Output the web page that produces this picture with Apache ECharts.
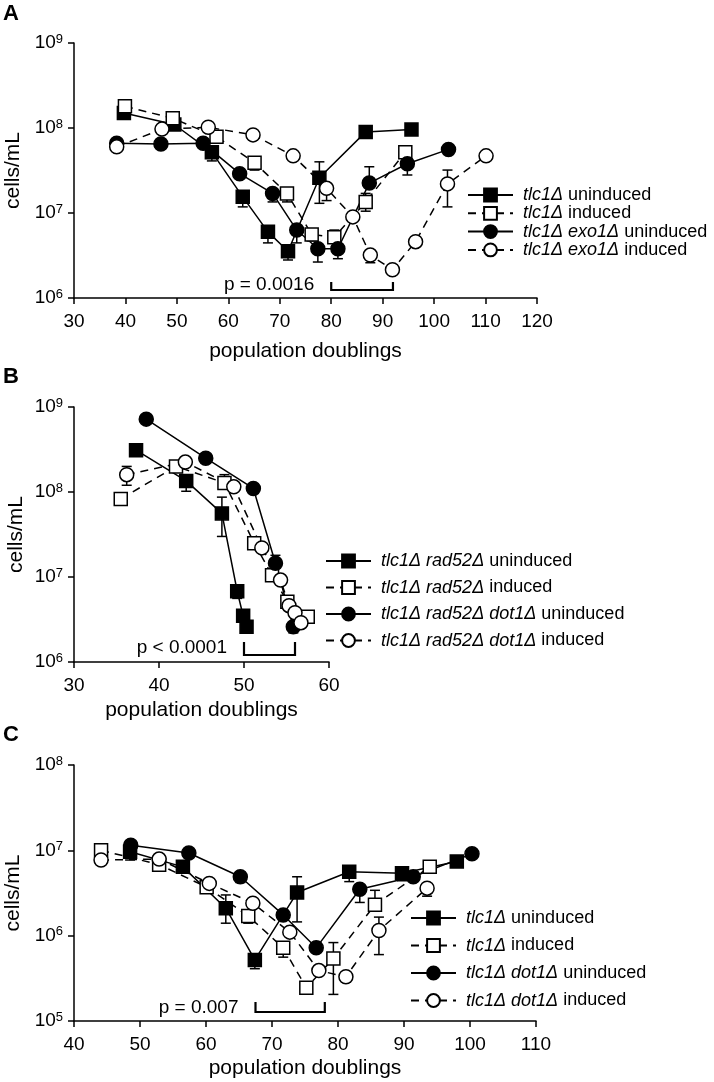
<!DOCTYPE html>
<html><head><meta charset="utf-8">
<script src="https://cdn.jsdelivr.net/npm/echarts@6/dist/echarts.min.js"></script>
<style>html,body{margin:0;padding:0;background:#fff}#c{width:714px;height:1082px}</style>
</head><body><div id="c"></div>
<script>
// ---------- Panel A ----------
const A_names = ['tlc1Δ uninduced', 'tlc1Δ induced', 'tlc1Δ exo1Δ uninduced', 'tlc1Δ exo1Δ induced'];
const A_tlc1_un = [[39.7,1.5e8],[49.5,1.1e8],[56.8,5.2e7],[62.8,1.55e7],[67.7,6.0e6],[71.6,3.55e6],[77.7,2.6e7],[86.7,9.0e7],[95.6,9.6e7]];
const A_tlc1_in = [[39.9,1.8e8],[49.2,1.3e8],[57.7,7.9e7],[65.1,3.9e7],[71.4,1.7e7],[76.2,5.6e6],[80.6,5.2e6],[86.7,1.35e7],[94.4,5.2e7]];
const A_exo1_un = [[38.3,6.6e7],[46.9,6.5e7],[55.1,6.6e7],[62.2,2.9e7],[68.6,1.7e7],[73.3,6.3e6],[77.4,3.8e6],[81.3,3.8e6],[87.4,2.25e7],[94.8,3.8e7],[102.8,5.6e7]];
const A_exo1_in = [[38.3,6.0e7],[47.1,9.7e7],[56.1,1.02e8],[64.8,8.3e7],[72.6,4.7e7],[79.1,1.95e7],[84.2,9.0e6],[87.6,3.2e6],[91.9,2.15e6],[96.4,4.6e6],[102.6,2.2e7],[110.1,4.7e7]];
// error bars: [x, value, bar end]
const A_err = [
  [56.8,5.2e7,4.1e7],[62.8,1.55e7,1.18e7],[67.7,6e6,4.45e6],[71.6,3.55e6,2.8e6],[77.7,2.6e7,4e7],[77.7,2.6e7,1.3e7],
  [65.1,3.9e7,3.2e7],[71.4,1.7e7,1.35e7],[76.2,5.6e6,4.7e6],[80.6,5.2e6,6.3e6],[86.7,1.35e7,1.7e7],[86.7,1.35e7,1.05e7],[94.4,5.2e7,5.9e7],[94.4,5.2e7,4.4e7],
  [68.6,1.7e7,1.35e7],[73.3,6.3e6,4.45e6],[77.4,3.8e6,2.65e6],[81.3,3.8e6,2.9e6],[87.4,2.25e7,3.5e7],[94.8,3.8e7,2.8e7],
  [64.8,8.3e7,7.2e7],[79.1,1.95e7,1.4e7],[87.6,3.2e6,2.6e6],[102.6,2.2e7,3.2e7],[102.6,2.2e7,1.18e7]
];
const A_bracket = [80, 92];
const A_p = 'p = 0.0016';
const A_xTicks = [30, 120, 10];
const A_yRange = [1e6, 1e9];

// ---------- Panel B ----------
const B_names = ['tlc1Δ rad52Δ uninduced', 'tlc1Δ rad52Δ induced', 'tlc1Δ rad52Δ dot1Δ uninduced', 'tlc1Δ rad52Δ dot1Δ induced'];
const B_r52_un = [[37.3,3.1e8],[43.2,1.35e8],[47.4,5.6e7],[49.2,6.8e6],[49.9,3.5e6],[50.3,2.6e6]];
const B_r52_in = [[35.5,8.3e7],[42.0,2.0e8],[47.7,1.28e8],[51.2,2.5e7],[53.3,1.05e7],[55.1,5.1e6],[57.5,3.4e6]];
const B_d1_un = [[38.5,7.2e8],[45.5,2.5e8],[51.1,1.1e8],[53.7,1.45e7],[55.8,2.6e6]];
const B_d1_in = [[36.2,1.6e8],[43.1,2.25e8],[48.8,1.15e8],[52.1,2.2e7],[54.3,9.2e6],[55.3,4.6e6],[56.0,3.8e6],[56.7,2.9e6]];
const B_err = [
  [43.2,1.35e8,1.02e8],[47.4,5.6e7,8.7e7],[47.4,5.6e7,3.0e7],[49.2,6.8e6,5.6e6],
  [47.7,1.28e8,1.6e8],
  [53.7,1.45e7,1.8e7],[55.8,2.6e6,2.2e6],
  [36.2,1.6e8,2.0e8],[36.2,1.6e8,1.2e8]
];
const B_bracket = [50, 56];
const B_p = 'p < 0.0001';
const B_xTicks = [30, 60, 10];
const B_yRange = [1e6, 1e9];

// ---------- Panel C ----------
const C_names = ['tlc1Δ uninduced', 'tlc1Δ induced', 'tlc1Δ dot1Δ uninduced', 'tlc1Δ dot1Δ induced'];
const C_tlc1_un = [[48.5,9.6e6],[56.5,6.4e6],[63.0,2.1e6],[67.4,5.2e5],[73.8,3.2e6],[81.7,5.6e6],[89.7,5.4e6],[98.0,7.4e6]];
const C_tlc1_in = [[44.1,1.0e7],[52.9,6.8e6],[60.1,3.7e6],[66.4,1.7e6],[71.7,7.2e5],[75.2,2.45e5],[79.3,5.4e5],[85.6,2.3e6],[93.9,6.4e6]];
const C_dot1_un = [[48.6,1.15e7],[57.4,9.3e6],[65.2,4.9e6],[71.7,1.75e6],[76.7,7.2e5],[83.3,3.5e6],[91.4,4.9e6],[100.3,9.1e6]];
const C_dot1_in = [[44.1,7.7e6],[52.9,7.9e6],[60.5,4.1e6],[67.1,2.4e6],[72.7,1.1e6],[77.1,3.9e5],[81.2,3.3e5],[86.2,1.15e6],[93.5,3.6e6]];
const C_err = [
  [48.5,9.6e6,7.7e6],[63.0,2.1e6,3.0e6],[63.0,2.1e6,1.4e6],[67.4,5.2e5,4.1e5],[73.8,3.2e6,4.9e6],[73.8,3.2e6,1.45e6],[81.7,5.6e6,4.3e6],[89.7,5.4e6,4.4e6],
  [66.4,1.7e6,1.4e6],[71.7,7.2e5,5.6e5],[79.3,5.4e5,8.3e5],[79.3,5.4e5,2.05e5],[85.6,2.3e6,3.4e6],
  [65.2,4.9e6,4.2e6],[83.3,3.5e6,2.45e6],
  [81.2,3.3e5,2.85e5],[86.2,1.15e6,1.65e6],[86.2,1.15e6,6e5],[93.5,3.6e6,2.9e6]
];
const C_bracket = [67.5, 78];
const C_p = 'p = 0.007';
const C_xTicks = [40, 110, 10];
const C_yRange = [1e5, 1e8];

const xTitle = 'population doublings';
const yTitle = 'cells/mL';

// ---------- build ----------
const FONT = 'Liberation Sans, Arial, sans-serif';
const DASH = [8, 6];

function lineSeries(name, data, gi, shape, filled, dashed) {
  return {
    type: 'line', name, data, xAxisIndex: gi, yAxisIndex: gi, z: 3,
    symbol: shape === 'square' ? 'rect' : 'circle',
    symbolSize: shape === 'square' ? 13 : 14,
    showAllSymbol: true,
    lineStyle: { color: '#000', width: 1.5, type: dashed ? DASH : 'solid' },
    itemStyle: { color: filled ? '#000' : '#fff', borderColor: '#000', borderWidth: 1.5, opacity: 1 },
    emphasis: { disabled: true }, animation: false
  };
}

function errSeries(data, gi) {
  return {
    type: 'custom', xAxisIndex: gi, yAxisIndex: gi, z: 2, silent: true, animation: false,
    data, encode: { x: 0, y: [1, 2] },
    renderItem: (params, api) => {
      const p0 = api.coord([api.value(0), api.value(1)]);
      const p1 = api.coord([api.value(0), api.value(2)]);
      const w = 5;
      return { type: 'group', children: [
        { type: 'line', shape: { x1: p0[0], y1: p0[1], x2: p1[0], y2: p1[1] }, style: { stroke: '#000', lineWidth: 1.5 } },
        { type: 'line', shape: { x1: p1[0] - w, y1: p1[1], x2: p1[0] + w, y2: p1[1] }, style: { stroke: '#000', lineWidth: 1.5 } }
      ]};
    }
  };
}

function bracketSeries(br, label, gi, yMin, lineOff, tickH, textOff) {
  return {
    type: 'custom', xAxisIndex: gi, yAxisIndex: gi, z: 2, silent: true, animation: false,
    data: [br], encode: { x: [0, 1] },
    renderItem: (params, api) => {
      const cs = params.coordSys;
      const bottom = cs.y + cs.height;
      const a = api.coord([api.value(0), yMin])[0];
      const b = api.coord([api.value(1), yMin])[0];
      const yl = bottom - lineOff;
      return { type: 'group', children: [
        { type: 'polyline', shape: { points: [[a, yl - tickH], [a, yl], [b, yl], [b, yl - tickH]] },
          style: { stroke: '#000', lineWidth: 2.2, fill: null } },
        { type: 'text', style: { text: label, x: a - 17, y: bottom - textOff, align: 'right', verticalAlign: 'middle',
          fontSize: 19, fontFamily: FONT, fill: '#000' } }
      ]};
    }
  };
}

function xAxis(gi, t, gap) {
  return {
    gridIndex: gi, type: 'value', min: t[0], max: t[1], interval: t[2],
    axisLine: { show: true, onZero: false, lineStyle: { color: '#000', width: 1.5 } },
    axisTick: { show: true, inside: false, length: 6, lineStyle: { color: '#000', width: 1.5 } },
    splitLine: { show: false },
    axisLabel: { fontSize: 19, color: '#000', fontFamily: FONT, margin: 14 },
    name: xTitle, nameLocation: 'middle', nameGap: gap,
    nameTextStyle: { fontSize: 21, color: '#000', fontFamily: FONT }
  };
}

function yAxis(gi, r) {
  return {
    gridIndex: gi, type: 'log', logBase: 10, min: r[0], max: r[1],
    axisLine: { show: true, lineStyle: { color: '#000', width: 1.5 } },
    axisTick: { show: true, inside: false, length: 6, lineStyle: { color: '#000', width: 1.5 } },
    minorTick: { show: false },
    splitLine: { show: false },
    axisLabel: {
      margin: 11, color: '#000',
      formatter: v => '{b|10}{s|' + Math.round(Math.log10(v)) + '}',
      rich: {
        b: { fontSize: 19, fontFamily: FONT, color: '#000' },
        s: { fontSize: 13, fontFamily: FONT, color: '#000', padding: [0, 0, 8, 0] }
      }
    },
    name: yTitle, nameLocation: 'middle', nameGap: 47,
    nameTextStyle: { fontSize: 21, color: '#000', fontFamily: FONT }
  };
}

function legend(names, left, top, gap) {
  return {
    data: names, orient: 'vertical', left, top, padding: 0, itemWidth: 45, itemHeight: 16, itemGap: gap,
    selectedMode: false, inactiveColor: '#000',
    formatter: n => n.split(' ').map(w => w.indexOf('Δ') >= 0 ? '{i|' + w + '}' : '{r|' + w + '}').join('{r| }'),
    textStyle: {
      fontSize: 18, fontFamily: FONT, color: '#000', lineHeight: 17, padding: [0, 0, 0, 5],
      rich: {
        i: { fontSize: 18, fontFamily: FONT, fontStyle: 'italic', color: '#000', lineHeight: 17 },
        r: { fontSize: 18, fontFamily: FONT, color: '#000', lineHeight: 17 }
      }
    }
  };
}

function grid(left, top, width, height) {
  return { left, top, width, height, containLabel: false, outerBoundsMode: 'none' };
}

const option = {
  backgroundColor: '#fff',
  animation: false,
  textStyle: { fontFamily: FONT },
  grid: [
    grid(74, 43, 463, 255),
    grid(74, 407, 255, 255),
    grid(74, 765, 462, 256)
  ],
  xAxis: [xAxis(0, A_xTicks, 43), xAxis(1, B_xTicks, 38), xAxis(2, C_xTicks, 37)],
  yAxis: [yAxis(0, A_yRange), yAxis(1, B_yRange), yAxis(2, C_yRange)],
  legend: [
    legend(A_names, 467, 186, 0.3),
    legend(B_names, 325, 552, 8.5),
    legend(C_names, 410, 909, 9.5)
  ],
  graphic: [
    { type: 'text', left: 3, top: 3, style: { text: 'A', fontSize: 22, fontWeight: 'bold', fontFamily: FONT, fill: '#000' } },
    { type: 'text', left: 3, top: 366, style: { text: 'B', fontSize: 22, fontWeight: 'bold', fontFamily: FONT, fill: '#000' } },
    { type: 'text', left: 3, top: 724, style: { text: 'C', fontSize: 22, fontWeight: 'bold', fontFamily: FONT, fill: '#000' } }
  ],
  series: [
    errSeries(A_err, 0),
    lineSeries(A_names[0], A_tlc1_un, 0, 'square', true, false),
    lineSeries(A_names[1], A_tlc1_in, 0, 'square', false, true),
    lineSeries(A_names[2], A_exo1_un, 0, 'circle', true, false),
    lineSeries(A_names[3], A_exo1_in, 0, 'circle', false, true),
    bracketSeries(A_bracket, A_p, 0, A_yRange[0], 8, 8, 13),

    errSeries(B_err, 1),
    lineSeries(B_names[0], B_r52_un, 1, 'square', true, false),
    lineSeries(B_names[1], B_r52_in, 1, 'square', false, true),
    lineSeries(B_names[2], B_d1_un, 1, 'circle', true, false),
    lineSeries(B_names[3], B_d1_in, 1, 'circle', false, true),
    bracketSeries(B_bracket, B_p, 1, B_yRange[0], 7, 13, 14),

    errSeries(C_err, 2),
    lineSeries(C_names[0], C_tlc1_un, 2, 'square', true, false),
    lineSeries(C_names[1], C_tlc1_in, 2, 'square', false, true),
    lineSeries(C_names[2], C_dot1_un, 2, 'circle', true, false),
    lineSeries(C_names[3], C_dot1_in, 2, 'circle', false, true),
    bracketSeries(C_bracket, C_p, 2, C_yRange[0], 9, 10, 13)
  ]
};

const chart = echarts.init(document.getElementById('c'), null, { renderer: 'canvas', width: 714, height: 1082 });
chart.setOption(option);
</script>
</body></html>
